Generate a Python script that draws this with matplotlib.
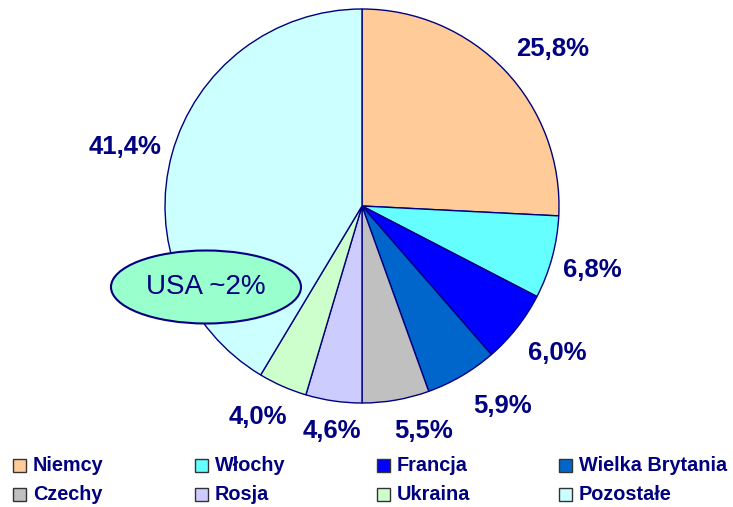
import numpy as np
import matplotlib.pyplot as plt
from matplotlib.patches import Ellipse, Rectangle

plt.rcParams['font.family'] = ['Liberation Sans', 'DejaVu Sans']

# --- data ---
countries = ['Niemcy', 'Włochy', 'Francja', 'Wielka Brytania',
             'Czechy', 'Rosja', 'Ukraina', 'Pozostałe']
shares = [25.8, 6.8, 6.0, 5.9, 5.5, 4.6, 4.0, 41.4]
colors = ['#FFCC99', '#66FFFF', '#0000FF', '#0066CC',
          '#C0C0C0', '#CCCCFF', '#CCFFCC', '#CCFFFF']
note = 'USA ~2%'

navy = '#000080'
R = 197
C = (362, 301)

fig = plt.figure(figsize=(7.33, 5.07), dpi=100)
ax = fig.add_axes([0, 0, 1, 1])
ax.set_xlim(0, 733)
ax.set_ylim(0, 507)
ax.set_aspect('equal')
ax.axis('off')

wedges, texts, autotexts = ax.pie(
    shares, colors=colors, center=C, radius=R,
    startangle=90, counterclock=False,
    autopct=lambda p: f'{p:.1f}%'.replace('.', ','), pctdistance=1.2,
    wedgeprops=dict(edgecolor=navy, linewidth=1.0),
    textprops=dict(color=navy, fontsize=18.5, fontweight='bold'))

ax.set_xlim(0, 733)
ax.set_ylim(0, 507)

# place labels just off the rim, roughly the way Excel does "outside end"
fig.canvas.draw()
rend = fig.canvas.get_renderer()
for w, t in zip(wedges, autotexts):
    ang = np.deg2rad((w.theta1 + w.theta2) / 2)
    hw = t.get_window_extent(rend).width / 2
    rx = C[0] + R * np.cos(ang)
    ry = C[1] + R * np.sin(ang)
    dx = np.clip(2.3 * np.cos(ang) + 0.3, -1, 1) * (hw + 11)
    dy = np.clip(1.3 * np.sin(ang), -1, 1) * 27.5 - 3
    t.set_position((rx + dx, ry + dy))

# USA note
ax.add_patch(Ellipse((206, 220), 190, 73, facecolor='#99FFCC',
                     edgecolor=navy, linewidth=1.5, zorder=5))
ax.text(206, 220, note, ha='center', va='center', fontsize=20,
        color=navy, zorder=6)

# legend drawn manually in a 4x2 grid
for i, (name, col) in enumerate(zip(countries, colors)):
    r, c = divmod(i, 4)
    x = 13 + c * 182
    y = 507 - 465.5 - r * 29
    ax.add_patch(Rectangle((x, y - 6.5), 13, 13, facecolor=col,
                           edgecolor='#333333', linewidth=1.0))
    ax.text(x + 20, y, name, ha='left', va='center', fontsize=14.3,
            fontweight='bold', color=navy)

plt.savefig('out.png', dpi=100)
